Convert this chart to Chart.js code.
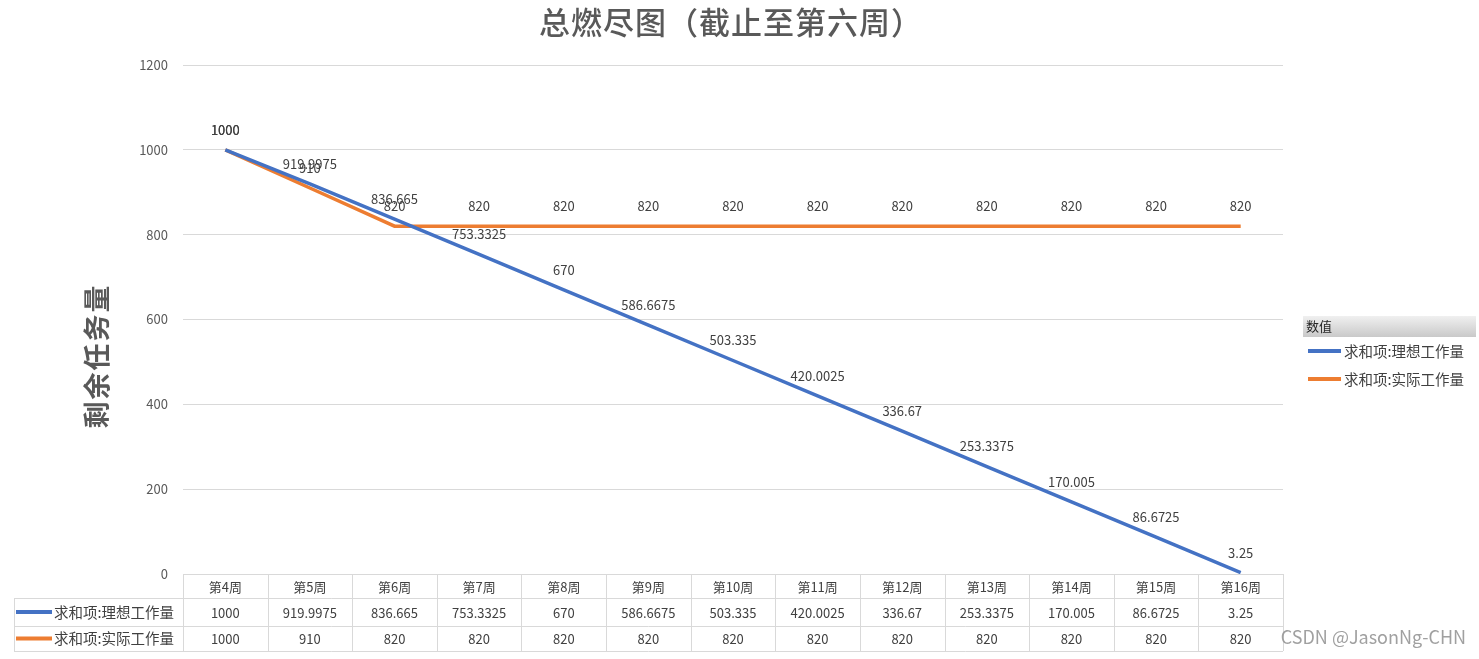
<!DOCTYPE html>
<html>
<head>
<meta charset="utf-8">
<script src="https://cdn.jsdelivr.net/npm/chart.js@4.4.0/dist/chart.umd.min.js"></script>
<style>
  html, body { margin: 0; padding: 0; background: #fff; }
  #wrap { width: 1479px; height: 659px; }
</style>
</head>
<body>
<div id="wrap"><canvas id="burn" width="1479" height="659"></canvas></div>
<script>
var weeks = ['第4周', '第5周', '第6周', '第7周', '第8周', '第9周', '第10周',
             '第11周', '第12周', '第13周', '第14周', '第15周', '第16周'];
var idealWork = [1000, 919.9975, 836.665, 753.3325, 670, 586.6675, 503.335,
                 420.0025, 336.67, 253.3375, 170.005, 86.6725, 3.25];
var actualWork = [1000, 910, 820, 820, 820, 820, 820, 820, 820, 820, 820, 820, 820];
var seriesNames = ['求和项:理想工作量', '求和项:实际工作量'];
var seriesColors = ['#4472C4', '#ED7D31'];

var FONT = '"Noto Sans CJK SC", "Noto Sans", sans-serif';
var GRID = '#d9d9d9';
var TEXT = '#404040';

// value labels above each point
var pointLabels = {
    id: 'pointLabels',
    afterDatasetsDraw: function(chart) {
        var c = chart.ctx;
        c.save();
        c.font = '13px ' + FONT;
        c.fillStyle = TEXT;
        c.textAlign = 'center';
        c.textBaseline = 'middle';
        chart.data.datasets.forEach(function(ds, i) {
            var meta = chart.getDatasetMeta(i);
            meta.data.forEach(function(pt, j) {
                c.fillText(String(ds.data[j]), pt.x, pt.y - 20);
            });
        });
        c.restore();
    }
};

// title, axis title, legend box, data table, watermark
var extras = {
    id: 'extras',
    afterDraw: function(chart) {
        var c = chart.ctx;
        var area = chart.chartArea;
        var x = chart.scales.x;
        var n = weeks.length;
        var w = x.width / n;
        c.save();

        // title
        c.fillStyle = '#595959';
        c.textAlign = 'center';
        c.textBaseline = 'middle';
        c.font = '500 31px ' + FONT;
        c.letterSpacing = '1px';
        c.fillText('总燃尽图（截止至第六周）', 731, 22);

        // y axis title, rotated
        c.save();
        c.translate(97, 356);
        c.rotate(-Math.PI / 2);
        c.font = 'bold 27px ' + FONT;
        c.letterSpacing = '2px';
        c.fillText('剩余任务量', 0, 0);
        c.restore();
        c.letterSpacing = '0px';

        // legend on the right
        var g = c.createLinearGradient(0, 316, 0, 337);
        g.addColorStop(0, '#f0f0f0');
        g.addColorStop(1, '#c9c9c9');
        c.fillStyle = g;
        c.fillRect(1303, 316, 173, 21);
        c.fillStyle = '#262626';
        c.textAlign = 'left';
        c.font = '13px ' + FONT;
        c.fillText('数值', 1306, 326);
        c.font = '14.5px ' + FONT;
        seriesNames.forEach(function(name, i) {
            var ly = 351 + i * 28;
            c.strokeStyle = seriesColors[i];
            c.lineWidth = 4;
            c.beginPath();
            c.moveTo(1308, ly);
            c.lineTo(1341, ly);
            c.stroke();
            c.fillStyle = TEXT;
            c.fillText(name, 1344, ly);
        });

        // data table under the plot
        var top = area.bottom;
        var rows = [top, top + 24, top + 52, top + 77];
        var left = x.left;
        var right = x.right;
        c.strokeStyle = GRID;
        c.lineWidth = 1;
        c.beginPath();
        c.moveTo(left, rows[0] + 0.5); c.lineTo(right, rows[0] + 0.5);
        for (var r = 1; r < 4; r++) {
            c.moveTo(14, rows[r] + 0.5); c.lineTo(right, rows[r] + 0.5);
        }
        c.moveTo(14.5, rows[1]); c.lineTo(14.5, rows[3]);
        for (var k = 0; k <= n; k++) {
            var bx = Math.round(left + k * w) + 0.5;
            c.moveTo(bx, rows[0]); c.lineTo(bx, rows[3]);
        }
        c.stroke();

        c.textAlign = 'center';
        c.fillStyle = TEXT;
        c.font = '13px ' + FONT;
        var rowData = [weeks, idealWork, actualWork];
        rowData.forEach(function(arr, r) {
            var cy = (rows[r] + rows[r + 1]) / 2 + 1;
            arr.forEach(function(v, j) {
                c.fillText(String(v), x.getPixelForValue(j), cy);
            });
        });

        // series keys in the table
        c.textAlign = 'left';
        c.font = '14.5px ' + FONT;
        seriesNames.forEach(function(name, i) {
            var cy = (rows[i + 1] + rows[i + 2]) / 2;
            c.strokeStyle = seriesColors[i];
            c.lineWidth = 4;
            c.beginPath();
            c.moveTo(16, cy);
            c.lineTo(52, cy);
            c.stroke();
            c.fillStyle = TEXT;
            c.fillText(name, 54, cy);
        });

        // watermark
        c.fillStyle = 'rgba(150,150,150,0.9)';
        c.font = '18px ' + FONT;
        c.textAlign = 'right';
        c.fillText('CSDN @JasonNg-CHN', 1466, 637);

        c.restore();
    }
};

new Chart(document.getElementById('burn'), {
    type: 'line',
    data: {
        labels: weeks,
        datasets: [{
            label: seriesNames[0],
            data: idealWork,
            borderColor: seriesColors[0],
            backgroundColor: seriesColors[0],
            borderWidth: 3.5,
            pointRadius: 0,
            tension: 0
        }, {
            label: seriesNames[1],
            data: actualWork,
            borderColor: seriesColors[1],
            backgroundColor: seriesColors[1],
            borderWidth: 3.5,
            pointRadius: 0,
            tension: 0
        }]
    },
    options: {
        responsive: false,
        animation: false,
        devicePixelRatio: 1,
        layout: { padding: { top: 65, right: 196, left: 0, bottom: 0 } },
        plugins: {
            legend: { display: false },
            title: { display: false },
            tooltip: { enabled: false }
        },
        scales: {
            x: {
                offset: true,
                grid: { display: false },
                border: { display: false },
                ticks: { display: false },
                afterFit: function(s) { s.height = 85; }
            },
            y: {
                min: 0,
                max: 1200,
                ticks: {
                    stepSize: 200,
                    color: '#595959',
                    padding: 15,
                    font: { size: 13, family: FONT },
                    callback: function(v) { return String(v); }
                },
                grid: { color: GRID, drawTicks: false },
                border: { display: false },
                afterFit: function(s) { s.width = 183; }
            }
        }
    },
    plugins: [pointLabels, extras]
});
</script>
</body>
</html>
